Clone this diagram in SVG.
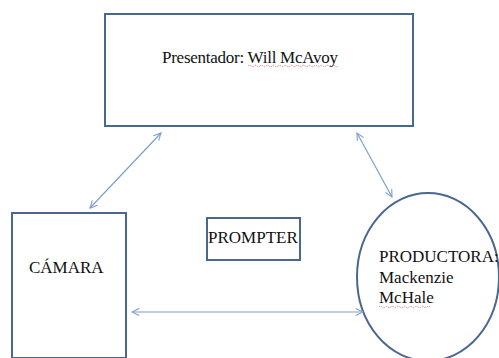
<svg xmlns="http://www.w3.org/2000/svg" width="499" height="358" viewBox="0 0 499 358">
<style>
.box{fill:#fff;stroke:#4a6791;stroke-width:2}
.lbl{font-size:17px;fill:#111}
.con{stroke:#7f9fcc;stroke-width:1.2;fill:none;marker-start:url(#ah);marker-end:url(#ah)}
.sq{stroke:#e0404a;stroke-width:0.8;fill:none;stroke-dasharray:1 1}
</style>
<defs>
<marker id="ah" viewBox="0 0 10 10" refX="9" refY="5" markerWidth="9" markerHeight="9" orient="auto-start-reverse" markerUnits="userSpaceOnUse">
<path d="M1,1 L9,5 L1,9" fill="none" stroke="#7f9fcc" stroke-width="1.2"/>
</marker>
</defs>
<rect width="499" height="358" fill="#fff"/>
<g id="presentador" font-family="Liberation Serif, Times New Roman, serif">
<rect class="box" x="105" y="14" width="308" height="112"/>
<text class="lbl" x="162" y="63" textLength="176" lengthAdjust="spacing">Presentador: Will McAvoy</text>
<path class="sq" d="M248,66 q1.5,-1.5 3,0 t3,0 t3,0 t3,0 t3,0 t3,0 t3,0 t3,0 t3,0 t3,0 t3,0 t3,0 t3,0 t3,0 t3,0 t3,0 t3,0 t3,0 t3,0 t3,0 t3,0 t3,0 t3,0 t3,0 t3,0 t3,0 t3,0 t3,0 t3,0 t3,0"/>
</g>
<g id="camara" font-family="Liberation Serif, Times New Roman, serif">
<rect class="box" x="12" y="213" width="114" height="145"/>
<text class="lbl" x="29" y="273">CÁMARA</text>
</g>
<g id="prompter" font-family="Liberation Serif, Times New Roman, serif">
<rect class="box" x="207" y="218" width="93" height="42"/>
<text class="lbl" x="208" y="243">PROMPTER</text>
</g>
<g id="productora" font-family="Liberation Serif, Times New Roman, serif">
<ellipse class="box" cx="428" cy="277" rx="71" ry="84"/>
<text class="lbl" x="379" y="262">PRODUCTORA:</text>
<text class="lbl" x="379" y="283">Mackenzie</text>
<text class="lbl" x="379" y="303">McHale</text>
<path class="sq" d="M379,307 q1.5,-1.5 3,0 t3,0 t3,0 t3,0 t3,0 t3,0 t3,0 t3,0 t3,0 t3,0 t3,0 t3,0 t3,0 t3,0 t3,0 t3,0 t3,0"/>
</g>
<g id="connectors">
<line class="con" x1="161" y1="133" x2="90" y2="208"/>
<line class="con" x1="357" y1="133" x2="392" y2="197"/>
<line class="con" x1="132" y1="312" x2="363" y2="312"/>
</g>
</svg>
